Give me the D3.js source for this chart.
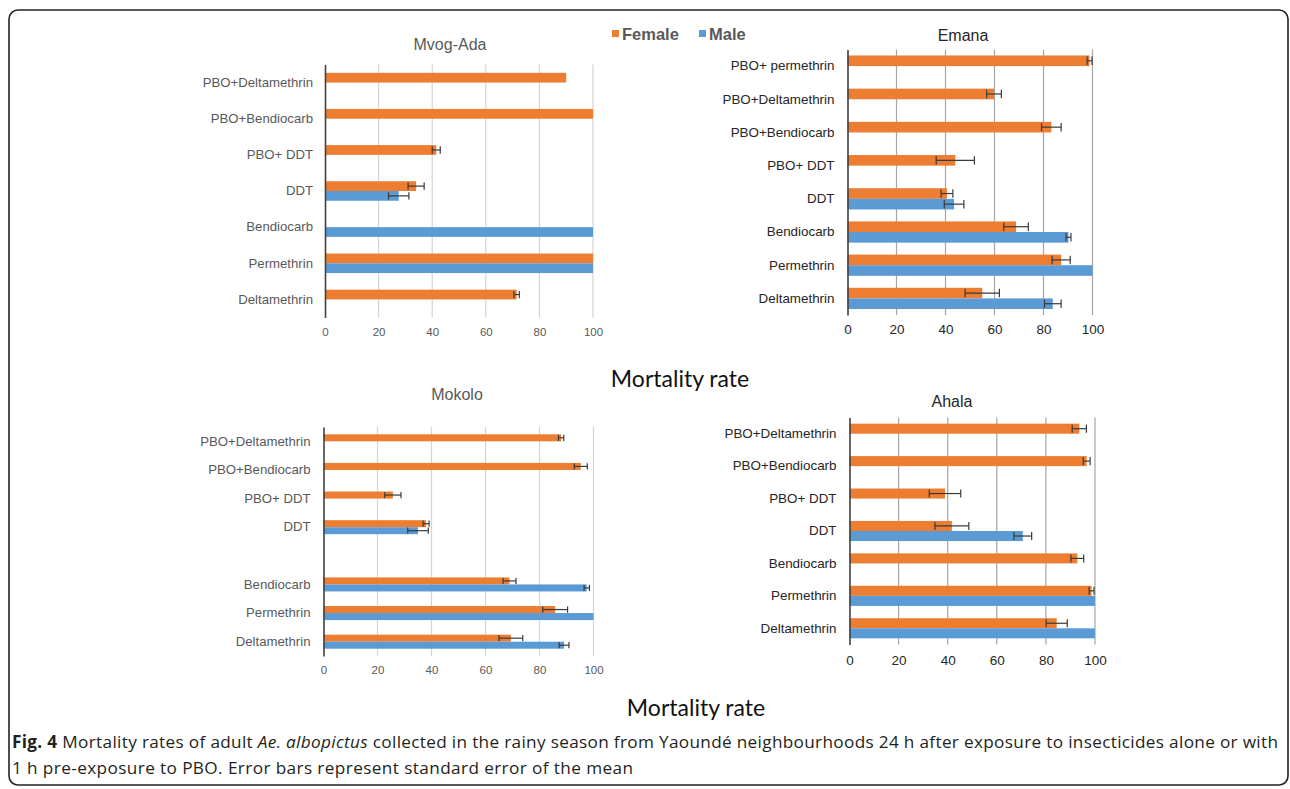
<!DOCTYPE html>
<html>
<head>
<meta charset="utf-8">
<script src="https://cdn.jsdelivr.net/npm/d3@7"></script>
<style>
  html, body { margin: 0; padding: 0; background: #ffffff; }
  svg { display: block; }
</style>
</head>
<body>
<svg id="fig" width="1290" height="789"></svg>
<script>
// ---- Mortality rate (%) by insecticide, sex and neighbourhood ----
const ticks = [0, 20, 40, 60, 80, 100];
const sexes = ["Female", "Male"];

// Mvog-Ada
const mvogCategories = ["PBO+Deltamethrin", "PBO+Bendiocarb", "PBO+ DDT", "DDT", "Bendiocarb", "Permethrin", "Deltamethrin"];
const mvogFemale     = [90, 100, 41.5, 34, null, 100, 71.5];
const mvogFemaleErr  = [0, 0, 1.5, 3, 0, 0, 1];
const mvogMale       = [null, null, null, 27.5, 100, 100, null];
const mvogMaleErr    = [0, 0, 0, 3.8, 0, 0, 0];

// Emana
const emanaCategories = ["PBO+ permethrin", "PBO+Deltamethrin", "PBO+Bendiocarb", "PBO+ DDT", "DDT", "Bendiocarb", "Permethrin", "Deltamethrin"];
const emanaFemale     = [98.8, 59.8, 83.2, 44, 40.6, 68.8, 87.2, 55];
const emanaFemaleErr  = [1, 3, 4, 7.8, 2.4, 5, 3.7, 7];
const emanaMale       = [null, null, null, null, 43.5, 90.2, 100, 83.8];
const emanaMaleErr    = [0, 0, 0, 0, 4, 1, 0, 3.4];

// Mokolo (one empty row between DDT and Bendiocarb)
const mokoloCategories = ["PBO+Deltamethrin", "PBO+Bendiocarb", "PBO+ DDT", "DDT", "", "Bendiocarb", "Permethrin", "Deltamethrin"];
const mokoloFemale     = [88, 95.3, 25.7, 38, null, 68.9, 85.8, 69.4];
const mokoloFemaleErr  = [1, 2.4, 3, 1.1, 0, 2.4, 4.6, 4.4];
const mokoloMale       = [null, null, null, 35, null, 97.5, 100, 89.1];
const mokoloMaleErr    = [0, 0, 0, 3.8, 0, 1, 0, 1.8];

// Ahala
const ahalaCategories = ["PBO+Deltamethrin", "PBO+Bendiocarb", "PBO+ DDT", "DDT", "Bendiocarb", "Permethrin", "Deltamethrin"];
const ahalaFemale     = [93.6, 96.6, 38.9, 41.7, 92.8, 98.6, 84.4];
const ahalaFemaleErr  = [2.9, 1.4, 6.4, 6.9, 2.6, 1, 4.3];
const ahalaMale       = [null, null, null, 70.6, null, 100, 100];
const ahalaMaleErr    = [0, 0, 0, 3.6, 0, 0, 0];

const colors = { Female: "#ED7D31", Male: "#5B9BD5" };
const FONT = "'Liberation Sans', Arial, sans-serif";

const svg = d3.select("#fig");

// Outer figure frame with rounded corners
svg.append("rect")
  .attr("x", 9).attr("y", 10)
  .attr("width", 1279).attr("height", 775)
  .attr("rx", 9).attr("ry", 9)
  .attr("fill", "none").attr("stroke", "#222").attr("stroke-width", 1.6);

function drawPanel(p) {
  const g = svg.append("g");
  const x = d3.scaleLinear().domain([0, 100]).range([p.x0, p.x1]);
  const y = d3.scaleBand().domain(p.categories).range([p.top, p.bottom]);
  const barH = y.bandwidth() * p.barFrac;
  const sub = d3.scaleBand().domain(sexes).range([-barH, barH]);

  // vertical gridlines
  g.append("g").selectAll("line")
    .data(ticks.filter(t => t > 0))
    .join("line")
    .attr("x1", d => x(d)).attr("x2", d => x(d))
    .attr("y1", p.top).attr("y2", p.bottom)
    .attr("stroke", p.gridColor).attr("stroke-width", 1.2);

  // rows: female / male values with errors
  const rows = [];
  p.categories.forEach((c, i) => {
    if (p.female[i] != null) rows.push({ cat: c, sex: "Female", v: p.female[i], e: p.femaleErr[i] });
    if (p.male[i] != null) rows.push({ cat: c, sex: "Male", v: p.male[i], e: p.maleErr[i] });
  });

  const yc = d => y(d.cat) + y.bandwidth() / 2 + sub(d.sex);

  g.append("g").selectAll("rect")
    .data(rows)
    .join("rect")
    .attr("x", x(0))
    .attr("y", d => yc(d))
    .attr("width", d => x(d.v) - x(0))
    .attr("height", sub.bandwidth())
    .attr("fill", d => colors[d.sex]);

  // error bars
  const eb = g.append("g").attr("stroke", "#3a3a3a").attr("stroke-width", 1.2);
  const withErr = rows.filter(d => d.e > 0);
  const capH = sub.bandwidth() * p.capFrac;
  const lo = d => x(d.v - d.e);
  const hi = d => x(Math.min(100.6, d.v + d.e));
  const mid = d => yc(d) + sub.bandwidth() / 2;
  eb.selectAll("line.h").data(withErr).join("line").attr("class", "h")
    .attr("x1", lo).attr("x2", hi)
    .attr("y1", mid).attr("y2", mid);
  eb.selectAll("line.l").data(withErr).join("line").attr("class", "l")
    .attr("x1", lo).attr("x2", lo)
    .attr("y1", d => mid(d) - capH / 2).attr("y2", d => mid(d) + capH / 2);
  eb.selectAll("line.r").data(withErr).join("line").attr("class", "r")
    .attr("x1", hi).attr("x2", hi)
    .attr("y1", d => mid(d) - capH / 2).attr("y2", d => mid(d) + capH / 2);

  // category axis
  const ya = g.append("g")
    .attr("transform", `translate(${p.x0},0)`)
    .call(d3.axisLeft(y).tickSize(0).tickPadding(p.labelPad));
  ya.select(".domain").attr("stroke", "#404040").attr("stroke-width", 1.6);
  ya.selectAll("text")
    .attr("font-family", FONT).attr("font-size", p.labelSize)
    .attr("fill", p.labelColor);

  // value axis
  const xa = g.append("g")
    .attr("transform", `translate(0,${p.bottom})`)
    .call(d3.axisBottom(x).tickValues(ticks).tickSize(0).tickPadding(p.tickPad));
  xa.select(".domain").remove();
  xa.selectAll("text")
    .attr("font-family", FONT).attr("font-size", p.tickSize)
    .attr("fill", p.tickColor);

  // panel title
  g.append("text")
    .attr("x", p.titleX).attr("y", p.titleY)
    .attr("text-anchor", "middle").attr("dominant-baseline", "central")
    .attr("font-family", FONT).attr("font-size", p.titleSize)
    .attr("fill", p.titleColor)
    .text(p.title);
}

drawPanel({
  title: "Mvog-Ada", titleX: 450, titleY: 44, titleSize: 16, titleColor: "#595959",
  categories: mvogCategories, female: mvogFemale, femaleErr: mvogFemaleErr, male: mvogMale, maleErr: mvogMaleErr,
  x0: 325, x1: 593, top: 64.5, bottom: 317.5, barFrac: 0.27, capFrac: 0.75,
  gridColor: "#d4d4d4", labelSize: 13.2, labelColor: "#595959", labelPad: 12,
  tickSize: 11.5, tickColor: "#595959", tickPad: 10
});

drawPanel({
  title: "Emana", titleX: 963, titleY: 35, titleSize: 16, titleColor: "#262626",
  categories: emanaCategories, female: emanaFemale, femaleErr: emanaFemaleErr, male: emanaMale, maleErr: emanaMaleErr,
  x0: 847.5, x1: 1092.5, top: 49.5, bottom: 315, barFrac: 0.32, capFrac: 0.8,
  gridColor: "#a6a6a6", labelSize: 13.4, labelColor: "#262626", labelPad: 13,
  tickSize: 13.5, tickColor: "#262626", tickPad: 9
});

drawPanel({
  title: "Mokolo", titleX: 457, titleY: 394, titleSize: 16, titleColor: "#595959",
  categories: mokoloCategories, female: mokoloFemale, femaleErr: mokoloFemaleErr, male: mokoloMale, maleErr: mokoloMaleErr,
  x0: 323.5, x1: 593.5, top: 427, bottom: 656, barFrac: 0.245, capFrac: 0.9,
  gridColor: "#d4d4d4", labelSize: 13.2, labelColor: "#595959", labelPad: 13,
  tickSize: 11.5, tickColor: "#595959", tickPad: 10
});

drawPanel({
  title: "Ahala", titleX: 952, titleY: 401, titleSize: 16, titleColor: "#262626",
  categories: ahalaCategories, female: ahalaFemale, femaleErr: ahalaFemaleErr, male: ahalaMale, maleErr: ahalaMaleErr,
  x0: 849.5, x1: 1095, top: 417.5, bottom: 644.5, barFrac: 0.31, capFrac: 0.8,
  gridColor: "#a6a6a6", labelSize: 13.4, labelColor: "#262626", labelPad: 13,
  tickSize: 13.5, tickColor: "#262626", tickPad: 11
});

// Shared legend
const legend = svg.append("g").attr("font-family", FONT).attr("font-weight", "bold")
  .attr("font-size", 16.5).attr("fill", "#595959");
const legendX = { Female: 612, Male: 699 };
sexes.forEach(s => {
  legend.append("rect").attr("x", legendX[s]).attr("y", 30).attr("width", 7).attr("height", 7).attr("fill", colors[s]);
  legend.append("text").attr("x", legendX[s] + 10).attr("y", 34).attr("dominant-baseline", "central").text(s);
});

// Shared axis titles
const AX_FONT = "Lato, 'Open Sans', sans-serif";
[{ x: 680, y: 378 }, { x: 696, y: 707 }].forEach(pos => {
  svg.append("text")
    .attr("x", pos.x).attr("y", pos.y)
    .attr("text-anchor", "middle").attr("dominant-baseline", "central")
    .attr("font-family", AX_FONT).attr("font-size", 23).attr("fill", "#111")
    .text("Mortality rate");
});

// Figure caption
const CAP_FONT = "'Open Sans', 'Noto Sans', sans-serif";
const cap1 = svg.append("text").attr("x", 12).attr("y", 748)
  .attr("font-family", CAP_FONT).attr("font-size", 17.2).attr("fill", "#231f20")
  .attr("textLength", 1266).attr("lengthAdjust", "spacing");
cap1.append("tspan").attr("font-weight", "bold").text("Fig. 4");
cap1.append("tspan").text(" Mortality rates of adult ");
cap1.append("tspan").attr("font-style", "italic").text("Ae. albopictus");
cap1.append("tspan").text(" collected in the rainy season from Yaoundé neighbourhoods 24 h after exposure to insecticides alone or with");
svg.append("text").attr("x", 12).attr("y", 774)
  .attr("font-family", CAP_FONT).attr("font-size", 17.2).attr("fill", "#231f20")
  .attr("textLength", 621).attr("lengthAdjust", "spacing")
  .text("1 h pre-exposure to PBO. Error bars represent standard error of the mean");
</script>
</body>
</html>
